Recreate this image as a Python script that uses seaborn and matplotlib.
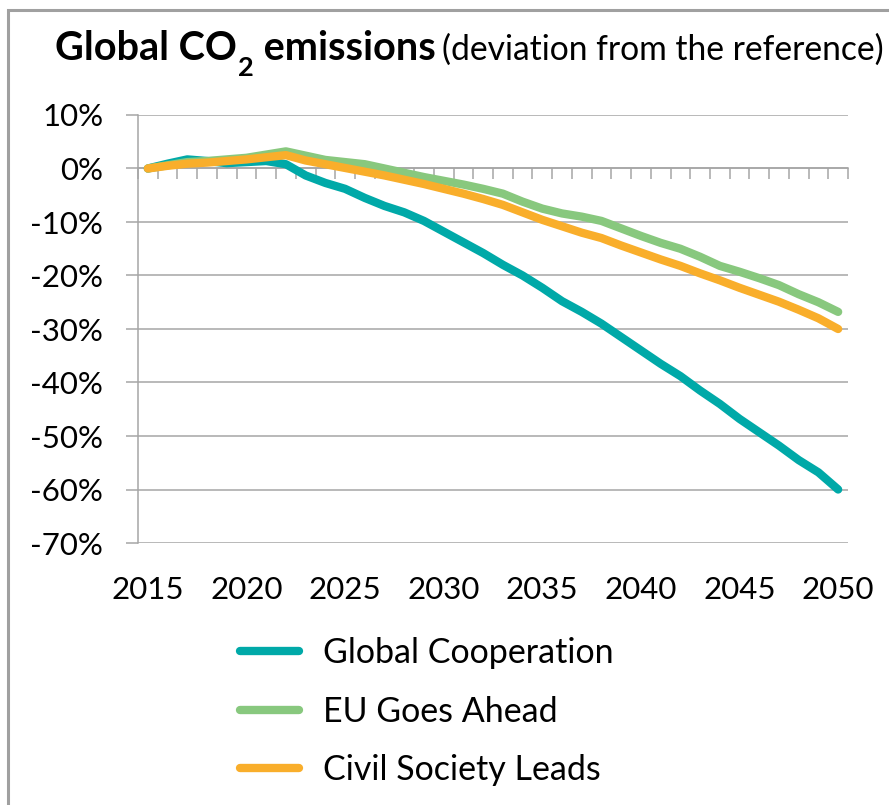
import numpy as np
import pandas as pd
import matplotlib
matplotlib.use('Agg')
import matplotlib.pyplot as plt
import seaborn as sns
from matplotlib.lines import Line2D
from matplotlib.patches import Rectangle

# Datos (desviacion en % respecto a la referencia)
years = list(range(2015, 2051))
global_coop = [0.0, 0.9, 1.7, 1.4, 1.0, 1.2, 1.4, 0.8, -1.3, -2.7,
               -3.8, -5.5, -7.0, -8.2, -9.8, -11.8, -13.8, -15.8, -18.0, -20.0,
               -22.3, -24.8, -26.8, -29.0, -31.5, -34.0, -36.5, -38.8, -41.5, -44.0,
               -46.8, -49.3, -51.8, -54.5, -56.8, -60.0]
eu_ahead = [0.0, 0.6, 1.2, 1.4, 1.7, 2.0, 2.6, 3.2, 2.4, 1.6,
            1.2, 0.8, 0.0, -0.8, -1.6, -2.3, -3.0, -3.8, -4.7, -6.2,
            -7.5, -8.4, -9.0, -9.8, -11.2, -12.6, -13.9, -15.0, -16.5, -18.2,
            -19.3, -20.5, -21.8, -23.5, -25.0, -26.8]
civil_society = [0.0, 0.5, 0.9, 1.1, 1.4, 1.7, 2.1, 2.5, 1.5, 0.8,
                 0.1, -0.6, -1.3, -2.1, -2.9, -3.8, -4.7, -5.7, -6.8, -8.2,
                 -9.6, -10.8, -12.0, -13.0, -14.4, -15.7, -17.0, -18.2, -19.6, -20.9,
                 -22.3, -23.6, -24.9, -26.4, -28.0, -30.0]
scenarios = ["Global Cooperation", "EU Goes Ahead", "Civil Society Leads"]
colors = ["#00A9A8", "#88C87E", "#F9AE2B"]
y_ticks = [10, 0, -10, -20, -30, -40, -50, -60, -70]
x_labels = [2015, 2020, 2025, 2030, 2035, 2040, 2045, 2050]

df = pd.DataFrame({"Year": years,
                   scenarios[0]: global_coop,
                   scenarios[1]: eu_ahead,
                   scenarios[2]: civil_society})
df = df.melt(id_vars="Year", var_name="Scenario", value_name="Value")

sns.set_theme(style="white")
plt.rcParams['font.family'] = ['Lato', 'DejaVu Sans']
plt.rcParams['text.color'] = 'black'

grid_c = "#A6A6A6"
W, H = 889, 805
fig = plt.figure(figsize=(W / 100, H / 100), dpi=100)
ax = fig.add_axes([138 / W, 1 - 543 / H, 710 / W, 428 / H])

sns.lineplot(data=df, x="Year", y="Value", hue="Scenario", hue_order=scenarios,
             palette=colors, linewidth=6, errorbar=None, legend=False, ax=ax)
for ln in ax.get_lines():
    ln.set_solid_capstyle('round')
    ln.set_solid_joinstyle('round')

ax.set_xlim(2014.5, 2050.5)
ax.set_ylim(-70, 10)
ax.set_yticks(y_ticks, [f"{v}%" for v in y_ticks])
ax.set_xticks(x_labels, [str(v) for v in x_labels])
ax.tick_params(axis='y', length=9, width=1.1, color=grid_c, pad=16,
               labelsize=22.5, labelcolor='black', left=True)
ax.tick_params(axis='x', length=0, pad=24, labelsize=22.5, labelcolor='black')
ax.grid(axis='y', color=grid_c, lw=1.1)
ax.grid(axis='x', visible=False)
ax.set_axisbelow(True)
for s in ['top', 'right', 'bottom']:
    ax.spines[s].set_visible(False)
ax.spines['left'].set_color(grid_c)
ax.spines['left'].set_linewidth(1.1)
ax.set_xlabel("")
ax.set_ylabel("")

# eje horizontal en 0% con marcas entre categorias
sec = ax.secondary_xaxis((0 - y_ticks[-1]) / (y_ticks[0] - y_ticks[-1]))
sec.set_xticks(np.arange(2014.5, 2051, 1))
sec.tick_params(direction='in', length=8, width=1.1, color=grid_c,
                labeltop=False, labelbottom=False)
for s in sec.spines.values():
    s.set_color(grid_c)
    s.set_linewidth(1.1)

# marco gris del grafico
fig.patches.append(Rectangle((8 / W, -0.1), 1.2, 1.1 - 10 / H, transform=fig.transFigure,
                             fill=False, edgecolor="#A0A0A0", lw=2.2))

# titulo por partes (CO con subindice 2)
fig.canvas.draw()
r = fig.canvas.get_renderer()


def put(x_px, base_px, s, **kw):
    t = fig.text(x_px / W, 1 - base_px / H, s, va='baseline', ha='left', **kw)
    return t.get_window_extent(r).x1


x = put(55, 60, "Global CO", fontsize=28.5, fontweight='bold')
x = put(x + 1, 76, "2", fontsize=19.5, fontweight='bold')
x = put(x, 60, " emissions", fontsize=28.5, fontweight='bold')
x = put(x + 7, 60, "(deviation from the reference)", fontsize=24.2)

handles = [Line2D([], [], color=c, lw=6, solid_capstyle='round') for c in colors]
fig.legend(handles, scenarios, loc='upper left', bbox_to_anchor=(240 / W, 1 - 637 / H),
           frameon=False, fontsize=24.5, handlelength=1.74, handletextpad=0.7,
           labelspacing=0.78, borderpad=0, borderaxespad=0)

fig.savefig("out.png", dpi=100)
